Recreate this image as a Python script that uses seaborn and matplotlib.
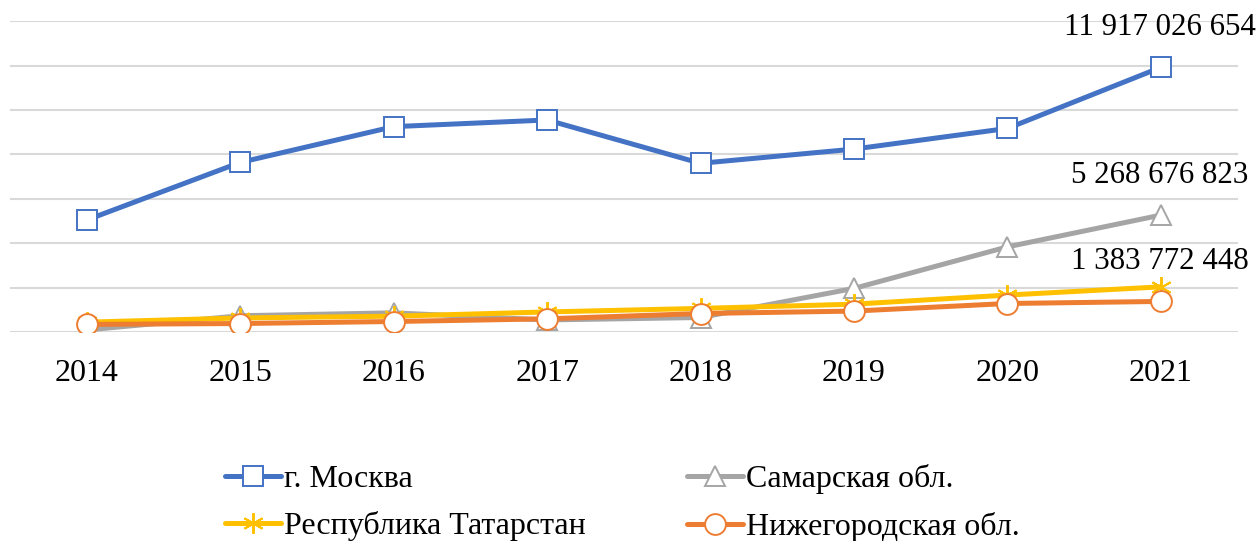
import seaborn as sns

import matplotlib
matplotlib.use("Agg")  # headless mode (no GUI)

import matplotlib.pyplot as plt

sns.set_theme(style="white")
plt.rcParams["font.family"] = ["Liberation Serif", "DejaVu Serif"]
plt.rcParams["text.color"] = "black"
plt.rcParams["xtick.color"] = "black"

# data (rubles)
years = ["2014", "2015", "2016", "2017", "2018", "2019", "2020", "2021"]
moscow = [5.05e9, 7.64e9, 9.25e9, 9.55e9, 7.60e9, 8.24e9, 9.17e9, 11917026654]
samara = [0.10e9, 0.74e9, 0.87e9, 0.55e9, 0.66e9, 1.97e9, 3.84e9, 5268676823]
tatarstan = [0.45e9, 0.64e9, 0.72e9, 0.91e9, 1.07e9, 1.26e9, 1.67e9, 2.04e9]
nizhny = [0.35e9, 0.39e9, 0.48e9, 0.60e9, 0.84e9, 0.95e9, 1.29e9, 1383772448]

names = ["г. Москва", "Самарская обл.", "Республика Татарстан", "Нижегородская обл."]
labelled = {"г. Москва", "Самарская обл.", "Нижегородская обл."}


def fmt(v):
    return f"{v:,.0f}".replace(",", " ")


fig = plt.figure(figsize=(12.59, 5.41), dpi=100)
ax = fig.add_axes([0.008, 0.386, 0.975, 0.575])

x = list(range(len(years)))
styles = {
    "г. Москва": dict(values=moscow, color="#4472C4", marker="s", ms=14),
    "Самарская обл.": dict(values=samara, color="#A5A5A5", marker="^", ms=15),
    "Республика Татарстан": dict(values=tatarstan, color="#FFC000", marker=(6, 2, 0), ms=15),
    "Нижегородская обл.": dict(values=nizhny, color="#ED7D31", marker="o", ms=15),
}

handles = {}
for name in names:
    st = styles[name]
    sns.lineplot(
        x=x, y=st["values"], ax=ax, color=st["color"], linewidth=3.6,
        marker=st["marker"], markersize=st["ms"], markerfacecolor="white",
        markeredgecolor=st["color"], markeredgewidth=1.4, label=name,
    )
    handles[name] = ax.lines[-1]
    if name in labelled:
        ax.annotate(fmt(st["values"][-1]), (x[-1], st["values"][-1]),
                    xytext=(-1, 28.5), textcoords="offset points",
                    ha="center", va="center", fontsize=22.2, color="black")

ax.set_xlim(-0.5, len(years) - 0.5)
ax.set_ylim(0, 14e9)
ax.set_yticks([i * 2e9 for i in range(8)])
ax.yaxis.grid(True, color="#D9D9D9", linewidth=1.5)
ax.set_axisbelow(True)
ax.set_yticklabels([])
ax.tick_params(axis="y", length=0)
ax.set_xticks(x)
ax.set_xticklabels(years, fontsize=23)
ax.tick_params(axis="x", length=0, pad=19)
for s in ax.spines.values():
    s.set_visible(False)
ax.get_legend().remove()

# two one-column legends, placed like the reference's 2x2 legend
leg_kw = dict(frameon=False, loc="center left", fontsize=23, handlelength=1.75,
              handletextpad=0.1, labelspacing=0.55, borderpad=0, borderaxespad=0,
              bbox_transform=fig.transFigure)
col1 = ["г. Москва", "Республика Татарстан"]
col2 = ["Самарская обл.", "Нижегородская обл."]
fig.legend([handles[n] for n in col1], col1,
           bbox_to_anchor=(225 / 1259, 1 - 503 / 541), **leg_kw)
fig.legend([handles[n] for n in col2], col2,
           bbox_to_anchor=(687 / 1259, 1 - 503 / 541), **leg_kw)

fig.savefig("out.png", dpi=100)
